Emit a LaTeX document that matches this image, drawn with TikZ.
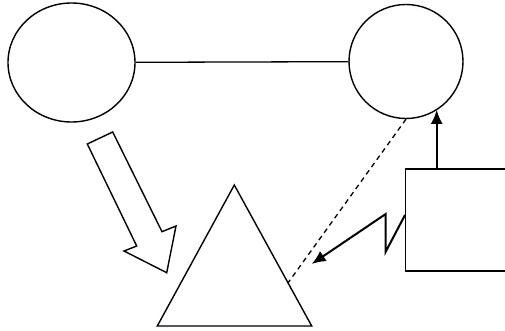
\documentclass[tikz,border=0pt]{standalone}
\usetikzlibrary{shapes.geometric,arrows.meta}
\begin{document}
\begin{tikzpicture}[x=1pt,y=-1pt,
  shp/.style={draw=black,line width=1.4pt,fill=white},
  thick arrow/.style={line width=2pt,-{Latex[length=14pt,width=12pt]}},
  dashline/.style={line width=1.3pt,dash pattern=on 5pt off 4pt}]
\useasboundingbox (0,0) rectangle (505,331);
\node[shp,ellipse,minimum width=127pt,minimum height=119pt,inner sep=0pt] (L) at (71.5,62.5) {};
\node[shp,circle,minimum size=114pt,inner sep=0pt] (C) at (406,61.5) {};
\draw[line width=1.3pt] (L) -- (C);
% rectangle (right side beyond the page)
\node[shp,rectangle,anchor=north west,minimum width=110pt,minimum height=102pt,inner sep=0pt] (B) at (405,168.3) {};
% triangle
\coordinate (tA) at (234.3,185);
\coordinate (tL) at (157.3,326);
\coordinate (tR) at (311.7,326);
\draw[shp,line join=miter] (tA) -- (tL) -- (tR) -- cycle;
% block arrow
\draw[shp,line join=miter] (87.3,144) -- (112.7,132) -- (162,231.7) -- (176,226) -- (166.7,272.7) -- (124,251) -- (136.7,246) -- cycle;
% up arrow from rectangle to circle
\coordinate (ua) at (436.7,168.3);
\draw[thick arrow] (ua) -- (ua |- C.-57);
% dashed line
\coordinate (dt) at (287.7,283.3);
\draw[dashline] (C.south) -- (dt);
% lightning arrow
\coordinate (z1) at (405,215);
\coordinate (z2) at (385.7,251.7);
\coordinate (z3) at (385.7,214);
\coordinate (z4) at (311.7,264);
\draw[thick arrow,line join=miter] (z1) -- (z2) -- (z3) -- (z4);
\end{tikzpicture}
\end{document}
